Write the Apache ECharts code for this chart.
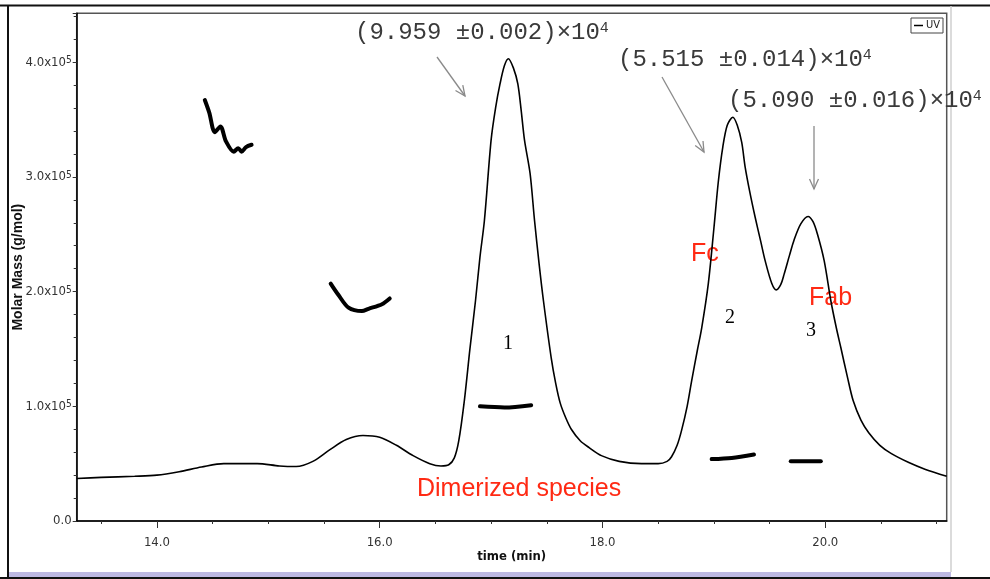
<!DOCTYPE html>
<html>
<head>
<meta charset="utf-8">
<script src="https://cdn.jsdelivr.net/npm/echarts@6/dist/echarts.min.js"></script>
<style>
html, body { margin: 0; padding: 0; background: #fff; }
#main { width: 990px; height: 579px; }
</style>
</head>
<body>
<div id="main"></div>
<script>
// UV trace (time in min, signal plotted on the molar mass scale)
var time = [13.28, 13.50, 13.80, 14.00, 14.20, 14.40, 14.60, 14.90, 15.10, 15.25,
    15.40, 15.55, 15.70, 15.85, 16.00, 16.15, 16.30, 16.45, 16.55, 16.62,
    16.67, 16.71, 16.76, 16.81, 16.86, 16.90, 16.94, 17.00, 17.04, 17.08,
    17.12, 17.155, 17.20, 17.24, 17.27, 17.30, 17.35, 17.39, 17.43, 17.47,
    17.54, 17.58, 17.62, 17.67, 17.72, 17.80, 17.88, 17.99, 18.15, 18.35,
    18.50, 18.58, 18.62, 18.67, 18.71, 18.76, 18.80, 18.85, 18.89, 18.95,
    19.00, 19.04, 19.08, 19.12, 19.17, 19.21, 19.25, 19.28, 19.32, 19.37,
    19.42, 19.46, 19.52, 19.56, 19.60, 19.63, 19.68, 19.72, 19.78, 19.845,
    19.89, 19.93, 19.99, 20.05, 20.10, 20.14, 20.20, 20.25, 20.32, 20.39,
    20.49, 20.59, 20.75, 20.90, 21.09];
var uvSignal = [37000, 38000, 39000, 40000, 43000, 47000, 50000, 50000, 48000, 47500,
    52000, 62000, 71000, 74500, 73000, 66000, 57000, 50000, 48000, 49000,
    55000, 70000, 105000, 150000, 192000, 230000, 262000, 332000, 360000, 381000,
    397000, 403000, 395000, 381000, 358000, 332000, 303000, 262000, 225000, 192000,
    142000, 120000, 103000, 90000, 80000, 70000, 64000, 57000, 52000, 50000,
    50000, 52000, 56000, 66000, 79000, 100000, 122000, 148000, 168000, 207000,
    255000, 296000, 326000, 345000, 352000, 345000, 330000, 309000, 288000, 265000,
    244000, 227000, 207000, 201500, 206000, 215000, 232000, 245000, 259000, 265500,
    261000, 250000, 227000, 192000, 168000, 151000, 125000, 105000, 88000, 77000,
    66000, 59000, 51000, 45000, 39000];

// molar mass segments (g/mol)
var mm1Time = [14.43, 14.47, 14.52, 14.57, 14.62, 14.69, 14.73, 14.76, 14.80, 14.85];
var mm1Mass = [367000, 356000, 339000, 344000, 331000, 322000, 325000, 322000, 326000, 328000];
var mm2Time = [15.56, 15.63, 15.72, 15.84, 15.90, 16.02, 16.09];
var mm2Mass = [207000, 197000, 186000, 183000, 185000, 189000, 194000];
var mm3Time = [16.90, 17.12, 17.36];
var mm3Mass = [100000, 99000, 101000];
var mm4Time = [18.98, 19.16, 19.36];
var mm4Mass = [54000, 55000, 58000];
var mm5Time = [19.69, 19.96];
var mm5Mass = [52000, 52000];

var xMajorTicks = [14, 16, 18, 20];
var xMinorTicks = [13.5, 14.5, 15, 15.5, 16.5, 17, 17.5, 18.5, 19, 19.5, 20.5, 21];

var narrow = "'Liberation Sans Narrow', 'DejaVu Sans Condensed', Arial, sans-serif";
var mono = "'Liberation Mono', 'Courier New', monospace";

function zip(xs, ys) {
    return xs.map(function (x, i) { return [x, ys[i]]; });
}

function massSeries(name, xs, ys) {
    return {
        name: name,
        type: 'line',
        data: zip(xs, ys),
        symbol: 'none',
        smooth: 0.3,
        silent: true,
        lineStyle: { color: '#000', width: 4, cap: 'round' },
        itemStyle: { color: '#000' }
    };
}

function arrow(x1, y1, x2, y2) {
    var a = Math.atan2(y2 - y1, x2 - x1), L = 11, w = 0.42;
    var st = { stroke: '#8a8a8a', lineWidth: 1.3, fill: null };
    return [
        { type: 'line', shape: { x1: x1, y1: y1, x2: x2, y2: y2 }, style: st, silent: true },
        { type: 'polyline', shape: { points: [
            [x2 - L * Math.cos(a - w), y2 - L * Math.sin(a - w)],
            [x2, y2],
            [x2 - L * Math.cos(a + w), y2 - L * Math.sin(a + w)]
        ] }, style: st, silent: true }
    ];
}

function annotation(x, y, main, sup) {
    return {
        type: 'text', x: x, y: y, silent: true,
        style: {
            text: '{m|' + main + '}{s|' + sup + '}',
            verticalAlign: 'middle',
            rich: {
                m: { fontFamily: mono, fontSize: 24, fill: '#3a3a3a' },
                s: { fontFamily: mono, fontSize: 15, fill: '#3a3a3a', verticalAlign: 'top' }
            }
        }
    };
}

function label(x, y, text, size, family, color) {
    return {
        type: 'text', x: x, y: y, silent: true,
        style: { text: text, fontSize: size, fontFamily: family, fill: color, verticalAlign: 'middle' }
    };
}

var red = '#ff2a14';
var graphics = [
    // outer frame
    { type: 'line', shape: { x1: 0, y1: 5.5, x2: 990, y2: 5.5 }, style: { stroke: '#111', lineWidth: 2 } },
    { type: 'line', shape: { x1: 8, y1: 5, x2: 8, y2: 578 }, style: { stroke: '#111', lineWidth: 2 } },
    { type: 'rect', shape: { x: 9, y: 572, width: 942, height: 5 }, style: { fill: '#bdb9e3' } },
    { type: 'line', shape: { x1: 0, y1: 578, x2: 990, y2: 578 }, style: { stroke: '#111', lineWidth: 2 } },
    { type: 'line', shape: { x1: 951, y1: 6, x2: 951, y2: 572 }, style: { stroke: '#cfcfcf', lineWidth: 1.5 } },
    annotation(355, 33, '(9.959 \u00b10.002)\u00d710', '4'),
    annotation(618, 60, '(5.515 \u00b10.014)\u00d710', '4'),
    annotation(728, 101, '(5.090 \u00b10.016)\u00d710', '4'),
    label(691, 254, 'Fc', 25, 'Liberation Sans, Arial, sans-serif', red),
    label(809, 298, 'Fab', 25, 'Liberation Sans, Arial, sans-serif', red),
    label(417, 489, 'Dimerized species', 25, 'Liberation Sans, Arial, sans-serif', red),
    label(503, 344, '1', 20, "'Liberation Serif', 'Times New Roman', serif", '#000'),
    label(725, 318, '2', 20, "'Liberation Serif', 'Times New Roman', serif", '#000'),
    label(806, 331, '3', 20, "'Liberation Serif', 'Times New Roman', serif", '#000')
].concat(arrow(437, 57, 465, 96), arrow(662, 77, 704, 152), arrow(814, 126, 814, 189));

var option = {
    animation: false,
    backgroundColor: '#fff',
    grid: {
        left: 76.7, top: 13.3, right: 43.3, bottom: 58,
        outerBoundsMode: 'none',
        containLabel: false,
        show: true, borderColor: '#555', borderWidth: 1.5
    },
    legend: {
        data: [{ name: 'UV', icon: 'rect' }],
        right: 47, top: 18,
        padding: [2, 3],
        itemWidth: 9, itemHeight: 1.5, itemGap: 2,
        borderColor: '#444', borderWidth: 1,
        textStyle: { fontSize: 11, fontFamily: narrow, color: '#222', padding: [0, 0, 0, -2] }
    },
    xAxis: [{
        type: 'value',
        min: 13.28, max: 21.09,
        position: 'bottom',
        name: 'time (min)',
        nameLocation: 'middle',
        nameGap: 29,
        nameMoveOverlap: false,
        nameTextStyle: { fontFamily: narrow, fontWeight: 'bold', fontSize: 13, color: '#111' },
        axisLine: { lineStyle: { color: '#000', width: 1.5 } },
        axisTick: { customValues: xMajorTicks, length: 7, lineStyle: { color: '#333' } },
        axisLabel: {
            customValues: xMajorTicks, margin: 15,
            fontFamily: narrow, fontSize: 13, color: '#333',
            formatter: function (v) { return v.toFixed(1); }
        },
        splitLine: { show: false }
    }, {
        type: 'value',
        min: 13.28, max: 21.09,
        position: 'bottom', offset: 0,
        axisLine: { show: false },
        axisTick: { customValues: xMinorTicks, length: 3, lineStyle: { color: '#333' } },
        axisLabel: { show: false },
        splitLine: { show: false }
    }],
    yAxis: {
        type: 'value',
        min: 0, max: 442600, interval: 100000,
        name: 'Molar Mass (g/mol)',
        nameLocation: 'middle',
        nameGap: 52,
        nameMoveOverlap: false,
        nameTextStyle: { fontFamily: 'Liberation Sans, Arial, sans-serif', fontWeight: 'bold', fontSize: 14, color: '#111' },
        axisLine: { show: true, lineStyle: { color: '#000', width: 1.5 } },
        axisTick: { length: 4, lineStyle: { color: '#333' } },
        minorTick: { show: true, splitNumber: 5, length: 3, lineStyle: { color: '#333' } },
        splitLine: { show: false },
        axisLabel: {
            margin: 5,
            showMaxLabel: false,
            formatter: function (v) {
                if (v === 0) return '{a|0.0}';
                if (v > 400000) return '';
                return '{a|' + (v / 100000).toFixed(1) + 'x10}{s|5}';
            },
            rich: {
                a: { fontFamily: narrow, fontSize: 13, color: '#333' },
                s: { fontFamily: narrow, fontSize: 10, color: '#333', verticalAlign: 'top' }
            }
        }
    },
    series: [
        {
            name: 'UV',
            type: 'line',
            data: zip(time, uvSignal),
            symbol: 'none',
            smooth: 0.3,
            lineStyle: { color: '#000', width: 1.6 },
            itemStyle: { color: '#000' }
        },
        massSeries('mm1', mm1Time, mm1Mass),
        massSeries('mm2', mm2Time, mm2Mass),
        massSeries('mm3', mm3Time, mm3Mass),
        massSeries('mm4', mm4Time, mm4Mass),
        massSeries('mm5', mm5Time, mm5Mass)
    ],
    graphic: graphics
};

var chart = echarts.init(document.getElementById('main'));
chart.setOption(option);
</script>
</body>
</html>
